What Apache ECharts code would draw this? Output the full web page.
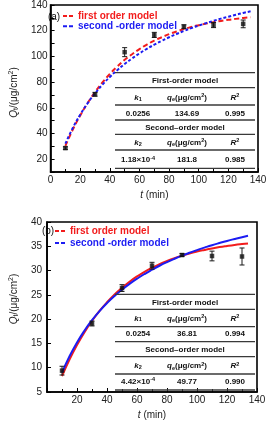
<!DOCTYPE html>
<html><head><meta charset="utf-8">
<script src="https://cdn.jsdelivr.net/npm/echarts@6/dist/echarts.min.js"></script>
<style>html,body{margin:0;padding:0;background:#fff}#c{width:271px;height:423px}</style>
</head><body><div id="c"></div>
<script>
// ---- data ----
const tData = [10, 30, 50, 70, 90, 110, 130];
const qTopData = [28.6, 70.5, 103.3, 116.7, 123.1, 124.4, 125.3];
const errTop = [1.0, 1.5, 3.5, 2.0, 1.5, 2.0, 3.0];
const qBotData = [9.4, 19.1, 26.4, 31.0, 33.2, 33.0, 32.9];
const errBot = [0.9, 0.5, 0.7, 0.7, 0.3, 1.0, 1.75];

const tFitTop = [10,15,20,25,30,35,40,45,50,55,60,65,70,75,80,85,90,95,100,105,110,115,120,125,130,135];
const fitTop1 = [30.4,43.0,54.0,63.7,72.2,79.7,86.3,92.1,97.3,101.7,105.7,109.2,112.3,114.9,117.3,119.4,121.2,122.9,124.3,125.5,126.6,127.6,128.5,129.2,129.9,130.4];
const fitTop2 = [32.1,44.3,54.6,63.5,71.2,78.0,84.0,89.3,94.1,98.4,102.3,105.9,109.1,112.1,114.9,117.4,119.8,122.0,124.0,125.9,127.7,129.4,130.9,132.4,133.8,135.1];

const tFitBot = [10,15,20,25,30,35,40,45,50,55,60,65,70,75,80,85,90,95,100,105,110,115,120,125,130,134];
const fitBot1 = [8.26,11.66,14.66,17.30,19.63,21.68,23.48,25.07,26.47,27.71,28.79,29.75,30.59,31.33,31.98,32.56,33.07,33.52,33.91,34.25,34.56,34.83,35.06,35.27,35.45,35.58];
const fitBot2 = [8.97,12.35,15.21,17.66,19.79,21.65,23.30,24.76,26.07,27.25,28.32,29.29,30.17,30.99,31.74,32.43,33.07,33.66,34.22,34.73,35.22,35.67,36.10,36.50,36.88,37.16];

const legendNames = ['first order model', 'second -order model'];
const panelLabels = ['(a)', '(b)'];
const tableTitles = ['First-order model', 'Second\u2013order model'];
const firstTop = ['0.0256', '134.69', '0.995'];
const secondTop = ['1.18\u00d710{sup|-4}', '181.8', '0.985'];
const firstBot = ['0.0254', '36.81', '0.994'];
const secondBot = ['4.42\u00d710{sup|-4}', '49.77', '0.990'];

// ---- helpers ----
const FONT = '"Liberation Sans", Arial, sans-serif';
const RED = '#f21c1c', BLUE = '#1c1cf2';
const pairs = (xs, ys) => xs.map((x, i) => [x, ys[i]]);
const errData = (xs, ys, es) => xs.map((x, i) => [x, ys[i] - es[i], ys[i] + es[i]]);

function renderErr(params, api) {
  const x = api.value(0);
  const lo = api.coord([x, api.value(1)]);
  const hi = api.coord([x, api.value(2)]);
  const w = 2.5;
  const st = { stroke: '#1a1a1a', lineWidth: 1 };
  return { type: 'group', children: [
    { type: 'line', shape: { x1: lo[0], y1: lo[1], x2: hi[0], y2: hi[1] }, style: st },
    { type: 'line', shape: { x1: lo[0] - w, y1: lo[1], x2: lo[0] + w, y2: lo[1] }, style: st },
    { type: 'line', shape: { x1: hi[0] - w, y1: hi[1], x2: hi[0] + w, y2: hi[1] }, style: st }
  ]};
}

const richName = {
  i: { fontStyle: 'italic', fontFamily: FONT, fontSize: 10, color: '#222' },
  s: { fontFamily: FONT, fontSize: 7, color: '#222', verticalAlign: 'bottom', padding: [4, 0, 0, 0] },
  n: { fontFamily: FONT, fontSize: 10, color: '#222' },
  p: { fontFamily: FONT, fontSize: 7, color: '#222', padding: [0, 0, 5, 0] }
};

function xAxisCfg(gi, hideZero) {
  return {
    type: 'value', gridIndex: gi, min: 0, max: 140, interval: 20,
    name: '{i|t}{n| (min)}', nameLocation: 'middle', nameGap: 18,
    nameTextStyle: { rich: richName },
    axisLine: { lineStyle: { color: '#000', width: 1.6 } },
    axisTick: { inside: true, length: 4, lineStyle: { color: '#000', width: 1 } },
    minorTick: { show: true, splitNumber: 2, length: 3, lineStyle: { color: '#000', width: 1 } },
    axisLabel: { fontFamily: FONT, fontSize: 10, color: '#222', margin: 3,
      formatter: v => (hideZero && v === 0) ? '' : String(v) },
    splitLine: { show: false }, minorSplitLine: { show: false }
  };
}

function yAxisCfg(gi, min, max, interval, labelEvery, margin, gap, pad) {
  return {
    type: 'value', gridIndex: gi, min: min, max: max, interval: interval,
    name: '{i|Q}{s|t}{n|/(\u03bcg/cm}{p|2}{n|)}', nameLocation: 'middle', nameGap: gap, nameRotate: 90,
    nameTextStyle: { rich: richName, padding: pad },
    axisLine: { lineStyle: { color: '#000', width: 1.6 } },
    axisTick: { inside: true, length: 4, lineStyle: { color: '#000', width: 1 } },
    axisLabel: { fontFamily: FONT, fontSize: 10, color: '#222', margin: margin,
      formatter: v => (v % labelEvery === 0) ? String(v) : '' },
    splitLine: { show: false }
  };
}

// ---- table graphics ----
const richTable = {
  b: { fontFamily: FONT, fontSize: 8, fontWeight: 'bold', color: '#111' },
  it: { fontFamily: FONT, fontSize: 8, fontWeight: 'bold', fontStyle: 'italic', color: '#111' },
  sub: { fontFamily: FONT, fontSize: 5.5, fontWeight: 'bold', color: '#111', verticalAlign: 'bottom', padding: [3, 0, 0, 0] },
  sup: { fontFamily: FONT, fontSize: 5.5, fontWeight: 'bold', color: '#111', padding: [0, 0, 4, 0] }
};
const colX = [138, 187, 235];
function header(k) {
  return ['{it|k}{sub|' + k + '}', '{it|q}{sub|e}{b|(\u03bcg/cm}{sup|2}{b|)}', '{it|R}{sup|2}'];
}
function txt(x, y, s) {
  const t = s.replace(/(^|\})([^{}]+?)(?=\{|$)/g, (m, a, b) => a + '{b|' + b + '}');
  return { type: 'text', x: x, y: y, z: 10,
    style: { text: t, rich: richTable, align: 'center', verticalAlign: 'middle', font: 'bold 8px ' + FONT, fill: '#111' } };
}
function hline(y, x0, x1) {
  return { type: 'line', z: 10, shape: { x1: x0, y1: y, x2: x1, y2: y }, style: { stroke: '#3a3a3a', lineWidth: 1.3 } };
}
function buildTable(lineYs, rowYs, first, second) {
  const els = [];
  lineYs.forEach(y => els.push(hline(y, 115, 255)));
  els.push(txt(185, rowYs[0], tableTitles[0]));
  header('1').forEach((h, i) => els.push(txt(colX[i], rowYs[1], h)));
  first.forEach((v, i) => els.push(txt(colX[i], rowYs[2], v)));
  els.push(txt(185, rowYs[3], tableTitles[1]));
  header('2').forEach((h, i) => els.push(txt(colX[i], rowYs[4], h)));
  second.forEach((v, i) => els.push(txt(colX[i], rowYs[5], v)));
  return els;
}
const graphics = [].concat(
  buildTable([72.7, 87.7, 105, 120, 134.3, 150, 168.3], [80.7, 97.7, 113.3, 127.3, 142.7, 160], firstTop, secondTop),
  buildTable([294.3, 309.3, 326.7, 341.7, 356.7, 374, 390], [302.7, 318.3, 334, 349.3, 366, 381.7], firstBot, secondBot),
  [
    { type: 'text', x: 54, y: 17, style: { text: panelLabels[0], font: '10px ' + FONT, fill: '#111', align: 'center', verticalAlign: 'middle' } },
    { type: 'text', x: 48, y: 231, style: { text: panelLabels[1], font: '10px ' + FONT, fill: '#111', align: 'center', verticalAlign: 'middle' } }
  ]
);

const DASH_ICON = 'path://M0,0H4V2H0Z M6,0H10V2H6Z';
function legendCfg(left, top, gap) {
  return {
    orient: 'vertical', left: left, top: top, itemWidth: 10, itemHeight: 2, itemGap: gap, padding: 0,
    data: [
      { name: legendNames[0], icon: DASH_ICON, itemStyle: { color: RED }, textStyle: { color: RED } },
      { name: legendNames[1], icon: DASH_ICON, itemStyle: { color: BLUE }, textStyle: { color: BLUE } }
    ],
    textStyle: { fontFamily: FONT, fontSize: 10, fontWeight: 'bold', lineHeight: 10 },
    selectedMode: false
  };
}

const option = {
  animation: false,
  backgroundColor: '#fff',
  grid: [
    { left: 42, top: 5, width: 216, height: 167, show: true, borderColor: '#000', borderWidth: 1.6 },
    { left: 39, top: 222, width: 218, height: 170, show: true, borderColor: '#000', borderWidth: 1.6 }
  ],
  xAxis: [xAxisCfg(0, false), xAxisCfg(1, true)],
  yAxis: [yAxisCfg(0, 10, 140, 10, 20, 3, 29, [0, 8, 0, 0]), yAxisCfg(1, 5, 40, 5, 5, 5, 26, [0, 0, 0, 16])],
  legend: [legendCfg(63, 11, 0.3), legendCfg(55, 226, 2)],
  graphic: graphics,
  series: [
    { name: legendNames[0], type: 'line', xAxisIndex: 0, yAxisIndex: 0, data: pairs(tFitTop, fitTop1),
      symbol: 'none', smooth: true, lineStyle: { color: RED, width: 2, type: [5, 3] }, itemStyle: { color: RED }, z: 3 },
    { name: legendNames[1], type: 'line', xAxisIndex: 0, yAxisIndex: 0, data: pairs(tFitTop, fitTop2),
      symbol: 'none', smooth: true, lineStyle: { color: BLUE, width: 2, type: [3, 2] }, itemStyle: { color: BLUE }, z: 3 },
    { name: 'errTop', type: 'custom', xAxisIndex: 0, yAxisIndex: 0, data: errData(tData, qTopData, errTop),
      renderItem: renderErr, encode: { x: 0, y: [1, 2] }, z: 4 },
    { name: 'dataTop', type: 'scatter', xAxisIndex: 0, yAxisIndex: 0, data: pairs(tData, qTopData),
      symbol: 'rect', symbolSize: 4.5, itemStyle: { color: '#111' }, z: 5 },

    { name: legendNames[0], type: 'line', xAxisIndex: 1, yAxisIndex: 1, data: pairs(tFitBot, fitBot1),
      symbol: 'none', smooth: true, lineStyle: { color: RED, width: 2 }, itemStyle: { color: RED }, z: 3 },
    { name: legendNames[1], type: 'line', xAxisIndex: 1, yAxisIndex: 1, data: pairs(tFitBot, fitBot2),
      symbol: 'none', smooth: true, lineStyle: { color: BLUE, width: 2 }, itemStyle: { color: BLUE }, z: 3 },
    { name: 'errBot', type: 'custom', xAxisIndex: 1, yAxisIndex: 1, data: errData(tData, qBotData, errBot),
      renderItem: renderErr, encode: { x: 0, y: [1, 2] }, z: 4 },
    { name: 'dataBot', type: 'scatter', xAxisIndex: 1, yAxisIndex: 1, data: pairs(tData, qBotData),
      symbol: 'rect', symbolSize: 4.5, itemStyle: { color: '#111' }, z: 5 }
  ]
};
const chart = echarts.init(document.getElementById('c'), null, { renderer: 'canvas' });
chart.setOption(option);
</script>
</body></html>
